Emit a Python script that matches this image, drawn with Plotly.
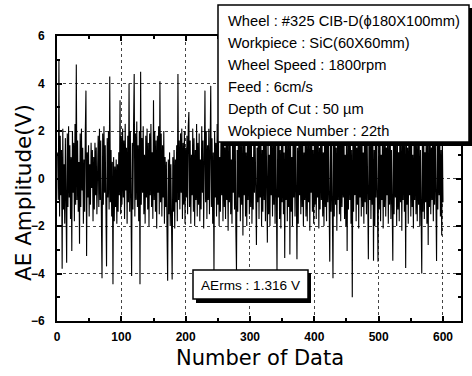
import plotly.graph_objects as go

# AE amplitude samples (V), index 1..600
ae_values = [
    1.1, -0.9, 5.0, -1.6, 1.8, -0.7, 1.2, -3.8, 2.1, -1.3, 0.6, -1.9, 1.7, -0.4, -3.55, 1.9, -1.2, 2.2, -0.8, 1.4,
    -1.7, 0.9, -3.05, 2.0, -0.6, 1.5, -1.8, 2.3, -1.1, 4.8, -0.9, 1.6, -1.4, 0.7, -2.75, 1.9, -1.2, 2.1, -0.5, 1.3,
    -1.9, 0.8, -1.4, 2.0, 3.7, -3.26, 1.1, -0.8, 1.4, -1.6, 0.6, -1.1, 1.5, -0.4, 1.2, -1.8, 0.9, -1.3, 1.5, -0.7,
    1.3, -1.5, 0.5, 1.8, -1.2, 2.1, -0.9, 1.6, -1.7, -4.2, 1.9, -1.1, 2.2, -0.6, 1.4, -2.0, -3.7, 1.7, -0.8, 2.0,
    -1.3, 4.3, -1.0, 1.2, -1.6, 0.7, -4.45, 0.9, -1.8, 0.5, -1.2, 0.8, -1.9, 0.6, -1.4, 1.1, -0.7, 3.3, -1.5, 1.8,
    -1.1, 2.1, -0.8, 1.6, -1.7, 2.3, -0.5, 1.3, -1.9, 1.8, -1.0, 4.0, -1.4, 2.0, -0.7, -4.1, 1.5, -1.3, 2.2, 4.4,
    -1.6, 1.9, -0.9, 2.4, -1.2, 1.4, -1.8, 2.0, -4.45, 4.5, -1.1, 1.7, -0.6, 2.2, -1.5, 1.0, -1.9, 1.8, -0.8, 2.1,
    -1.3, 1.5, -2.0, 1.9, -0.7, 2.3, -1.2, 1.1, -1.7, 3.3, -0.9, 2.0, -1.4, 1.6, -2.1, 1.8, -0.6, 2.2, -1.5, 4.1,
    -1.0, 1.9, -1.6, 1.4, -0.8, 2.0, -1.9, 0.9, -1.2, 0.7, -2.2, -4.3, 0.8, -1.5, 1.1, -2.0, 0.6, -1.7, -4.25, 0.9,
    -1.4, 1.2, -2.1, 0.8, -1.0, 1.4, -1.8, 4.4, -0.9, 1.6, -1.3, 1.9, -0.6, 2.1, -1.7, 1.5, -1.1, 2.0, -1.9, 1.3,
    -0.8, 1.8, -1.5, 2.2, 2.8, -1.2, 1.6, -1.9, 1.0, -0.7, 2.1, -1.4, 1.7, -2.0, 1.2, -0.9, 2.3, -1.6, 1.5, -1.1,
    1.9, -1.8, 0.8, -1.3, 2.2, -0.6, 1.6, -2.1, 1.3, 3.7, -1.0, 2.0, -1.7, 1.4, -0.9, 2.1, -1.5, 1.8, 3.9, -1.2,
    1.7, -1.9, 1.1, -4.0, 2.0, -0.8, 1.5, -1.6, 2.3, -1.1, 1.8, -2.0, 0.9, -1.4, 2.2, -0.7, 1.6, -1.8, 2.4, -1.2,
    1.3, -1.7, 2.1, -0.9, 1.9, -2.2, 1.4, -1.0, 2.5, -1.5, 0.8, -1.9, 2.0, -0.6, 1.7, -1.3, 2.3, -2.1, -3.9, 1.2,
    -1.4, 2.2, -0.8, 1.6, -1.8, 2.0, -1.1, 1.4, -2.4, 1.9, -0.7, 2.3, -1.6, 1.1, -2.0, 1.8, -0.9, 2.1, -1.5, 1.5,
    -1.2, 2.4, -1.9, 0.9, -1.3, 2.0, -0.6, 1.7, -2.1, -2.8, 1.3, -1.0, 2.2, -1.7, 1.5, -0.8, 1.9, -2.0, 1.2, -1.4,
    2.1, -0.9, 1.6, -1.8, 2.3, -1.2, -2.7, 1.8, -1.5, 1.0, -2.0, 2.2, -0.7, 1.4, -1.6, 2.0, -1.1, 1.7, -1.9, 2.4,
    -1.3, -3.9, 1.5, -0.8, 2.1, -1.7, 1.2, -2.1, 1.9, -1.0, 2.3, -1.5, 1.1, -3.35, 1.8, -0.9, 2.0, -1.8, 1.4, -1.2,
    2.2, -3.2, 1.6, -1.4, 0.9, -2.0, 2.1, -0.8, 1.7, -1.6, 2.4, -1.1, -3.4, 1.3, -1.9, 2.0, -0.7, 1.5, -1.5, 2.2,
    -1.2, 1.8, -2.0, 1.1, -0.9, 2.3, -1.6, 1.4, -1.8, 2.0, -1.0, 1.6, -2.2, 1.9, -0.6, 2.1, -1.4, 1.2, -1.9, 1.7,
    -1.1, 2.2, -1.7, 1.5, -0.8, 2.0, -2.1, 1.3, -1.3, 2.4, -0.9, 1.8, -1.6, 1.1, -2.0, 2.1, -1.2, 1.6, -1.8, 2.3,
    -1.0, 1.4, -1.9, -3.5, 2.0, -1.4, 1.7, -0.7, -4.2, 1.9, -1.6, 2.2, -1.1, 1.3, -2.2, 1.8, -0.9, 2.0, -1.5, 1.6,
    -1.8, 2.1, -1.2, 1.5, -0.8, 2.3, -1.7, 1.0, -2.0, 1.9, -3.05, 1.4, -1.3, 2.2, -0.9, 1.7, -1.9, 1.2, -5.0, 2.0,
    -1.4, 1.6, -0.7, 2.4, -1.8, 1.3, -1.1, 2.0, -2.1, 1.8, -0.8, 1.5, -1.6, 2.2, -1.2, 1.1, -1.9, 2.1, -1.0, 1.7,
    -1.5, 2.0, -1.9, -3.4, 1.9, -0.9, 1.4, -1.7, 2.3, -1.1, 1.6, -3.46, 1.2, -2.0, 2.1, -0.8, 1.8, -1.4, -3.5, 1.5,
    -1.3, 2.2, -1.8, 1.0, -0.9, 1.9, -2.1, 1.6, -1.2, 2.4, -1.6, 1.3, -0.7, 2.0, -1.9, 1.5, -1.1, 2.1, -1.7, 1.2,
    -1.0, -3.46, 1.8, -1.5, 2.2, -0.8, 1.4, -2.0, 1.9, -1.3, 1.1, -1.8, 2.3, -1.0, 1.6, -2.2, 1.7, -0.9, 2.0, -1.4,
    1.5, -3.77, 2.1, -1.1, 1.3, -1.9, 2.0, -0.7, 1.8, -1.6, 2.4, -1.2, 1.0, -2.1, 1.7, -0.9, 2.2, -1.5, 1.4, -1.8,
    2.0, -1.1, 1.6, -2.0, 1.2, -0.8, -4.0, 1.9, -1.4, 2.3, -1.7, 1.1, -1.0, 2.1, -1.9, 1.5, -2.8, 1.8, -1.2, 2.0,
    -1.5, 1.3, -0.9, 2.2, -1.8, 1.6, -1.1, 1.9, -2.0, -3.47, 1.4, -1.3, 2.1, -0.7, 1.7, -1.6, 1.2, -2.4, 1.8, -1.0,
]
sample_index = list(range(1, len(ae_values) + 1))

x_ticks = [0, 100, 200, 300, 400, 500, 600]
y_ticks = [-6, -4, -2, 0, 2, 4, 6]

info_lines = [
    "Wheel : #325 CIB-D(\u03d5180X100mm)",
    "Workpiece : SiC(60X60mm)",
    "Wheel Speed : 1800rpm",
    "Feed : 6cm/s",
    "Depth of Cut : 50 \u00b5m",
    "Wokpiece Number : 22th",
]
rms_label = "AErms : 1.316 V"

fig = go.Figure()
fig.add_trace(go.Scatter(x=sample_index, y=ae_values, mode="lines",
                         line=dict(color="black", width=1.1), showlegend=False,
                         hoverinfo="skip"))

W, H = 472, 376
ml, mr, mt, mb = 57, 11, 36, 55
pw, ph = W - ml - mr, H - mt - mb

def px(xp):
    return (xp - ml) / pw

def py(yp):
    return (H - mb - yp) / ph

axis_common = dict(
    showline=True, linecolor="black", linewidth=2, mirror="allticks",
    ticks="inside", ticklen=5, tickwidth=1.5, tickcolor="black",
    showgrid=True, gridcolor="#444", griddash="dot", gridwidth=1,
    zeroline=False, automargin=False,
    tickfont=dict(family="Liberation Sans, Arial", size=12, color="black", weight="bold"),
)

fig.update_layout(
    width=W, height=H,
    margin=dict(l=ml, r=mr, t=mt, b=mb),
    paper_bgcolor="white", plot_bgcolor="white",
    xaxis=dict(range=[0, 628], tickvals=x_ticks, ticklabelstandoff=4,
               minor=dict(dtick=50, ticks="inside", ticklen=3, tickcolor="black", showgrid=False),
               **axis_common),
    yaxis=dict(range=[-6, 6], tickvals=y_ticks, ticklabelstandoff=8,
               minor=dict(dtick=1, ticks="inside", ticklen=3, tickcolor="black", showgrid=False),
               **axis_common),
)

# Info box with shadow
fig.add_shape(type="rect", xref="paper", yref="paper",
              x0=px(221), x1=px(472), y0=py(146), y1=py(8),
              fillcolor="black", line=dict(width=0), layer="above")
fig.add_shape(type="rect", xref="paper", yref="paper",
              x0=px(218), x1=px(469), y0=py(142), y1=py(5),
              fillcolor="white", line=dict(color="black", width=1.5), layer="above")
line_y = [21, 43, 65, 87, 109, 131]
for txt, yy in zip(info_lines, line_y):
    fig.add_annotation(text=txt, xref="paper", yref="paper", x=px(226), y=py(yy),
                       xanchor="left", yanchor="middle", showarrow=False,
                       font=dict(family="Liberation Sans, Arial", size=14.7, color="black"))

# AErms box with shadow
fig.add_shape(type="rect", xref="paper", yref="paper",
              x0=px(196), x1=px(311), y0=py(303), y1=py(273),
              fillcolor="black", line=dict(width=0), layer="above")
fig.add_shape(type="rect", xref="paper", yref="paper",
              x0=px(193), x1=px(308), y0=py(299), y1=py(270),
              fillcolor="white", line=dict(color="black", width=1.5), layer="above")
fig.add_annotation(text=rms_label, xref="paper", yref="paper", x=px(250.5), y=py(285),
                   xanchor="center", yanchor="middle", showarrow=False,
                   font=dict(family="Liberation Sans, Arial", size=13.6, color="black"))

# Axis titles
fig.add_annotation(text="AE Amplitude(V)", xref="paper", yref="paper", x=px(24), y=py(193),
                   xanchor="center", yanchor="middle", showarrow=False, textangle=-90,
                   font=dict(family="DejaVu Sans", size=21.5, color="black"))
fig.add_annotation(text="Number of Data", xref="paper", yref="paper", x=px(260), y=py(358),
                   xanchor="center", yanchor="middle", showarrow=False,
                   font=dict(family="DejaVu Sans", size=21, color="black"))

fig.write_html("out.html", config={"displayModeBar": False},
               post_script="document.body.style.margin='0';document.body.style.padding='0';")
